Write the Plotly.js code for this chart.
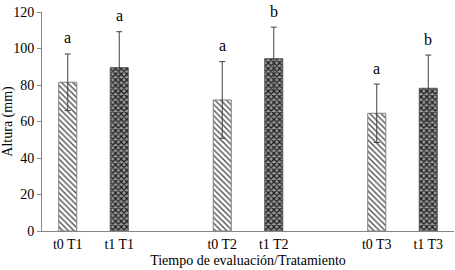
<!DOCTYPE html>
<html><head><meta charset="utf-8">
<script src="https://cdn.plot.ly/plotly-3.0.1.min.js"></script>
<style>html,body{margin:0;padding:0;background:#fff}#c{width:455px;height:270px}</style>
</head><body><div id="c"></div>
<script>
var labels = ["t0 T1","t1 T1","t0 T2","t1 T2","t0 T3","t1 T3"];
var positions = [0,1,3,4,6,7];
var t0Pos = [0,3,6], t1Pos = [1,4,7];
var t0Vals = [81.5, 71.8, 64.5];
var t0Err = [15.5, 21, 16];
var t1Vals = [89.5, 94.4, 78.2];
var t1Err = [19.7, 17.3, 18.2];
var t0Letters = ["a","a","a"];
var t1Letters = ["a","b","b"];

var font = '"Liberation Serif", "Times New Roman", Times, serif';
var errStyle = {type:'data', symmetric:true, color:'#404040', thickness:1, width:3};
var traces = [
  {type:'bar', x:t0Pos, y:t0Vals, width:0.35,
   error_y:Object.assign({array:t0Err}, errStyle),
   marker:{color:'#ffffff', line:{color:'#7f7f7f', width:1},
     pattern:{shape:'\\', fgcolor:'#505050', bgcolor:'#ffffff', size:4, solidity:0.35}}},
  {type:'bar', x:t1Pos, y:t1Vals, width:0.35,
   error_y:Object.assign({array:t1Err}, errStyle),
   marker:{color:'#808080', line:{color:'#555555', width:1},
     pattern:{shape:'x', fgcolor:'#1a1a1a', bgcolor:'#9a9a9a', size:4, solidity:0.5}}}
];
var ann = [];
function addLetters(xs, vs, es, ls){
  for (var i=0;i<xs.length;i++){
    ann.push({x:xs[i], y:vs[i]+es[i], text:ls[i], showarrow:false, yanchor:'middle', yshift:16,
      font:{family:font, size:16, color:'#000'}});
  }
}
addLetters(t0Pos, t0Vals, t0Err, t0Letters);
addLetters(t1Pos, t1Vals, t1Err, t1Letters);

var layout = {
  width:455, height:270,
  margin:{l:42, r:1, t:12, b:39},
  paper_bgcolor:'#fff', plot_bgcolor:'#fff',
  showlegend:false, barmode:'overlay',
  font:{family:font, size:14, color:'#000'},
  xaxis:{range:[-0.5,7.5], tickmode:'array', tickvals:positions, ticktext:labels,
    showgrid:false, zeroline:false, showline:true, linecolor:'#868686', linewidth:1,
    ticks:'', tickfont:{family:font, size:14}, fixedrange:true,
    title:{text:'Tiempo de evaluación/Tratamiento', font:{family:font, size:14}, standoff:4}},
  yaxis:{range:[0,120], tickvals:[0,20,40,60,80,100,120], showgrid:false, zeroline:false,
    showline:true, linecolor:'#868686', linewidth:1, ticks:'outside', ticklen:4, tickcolor:'#868686',
    tickfont:{family:font, size:14},
    title:{text:'Altura (mm)', font:{family:font, size:14}, standoff:3}},
  annotations:ann
};
Plotly.newPlot('c', traces, layout, {displayModeBar:false, staticPlot:true});
</script></body></html>
